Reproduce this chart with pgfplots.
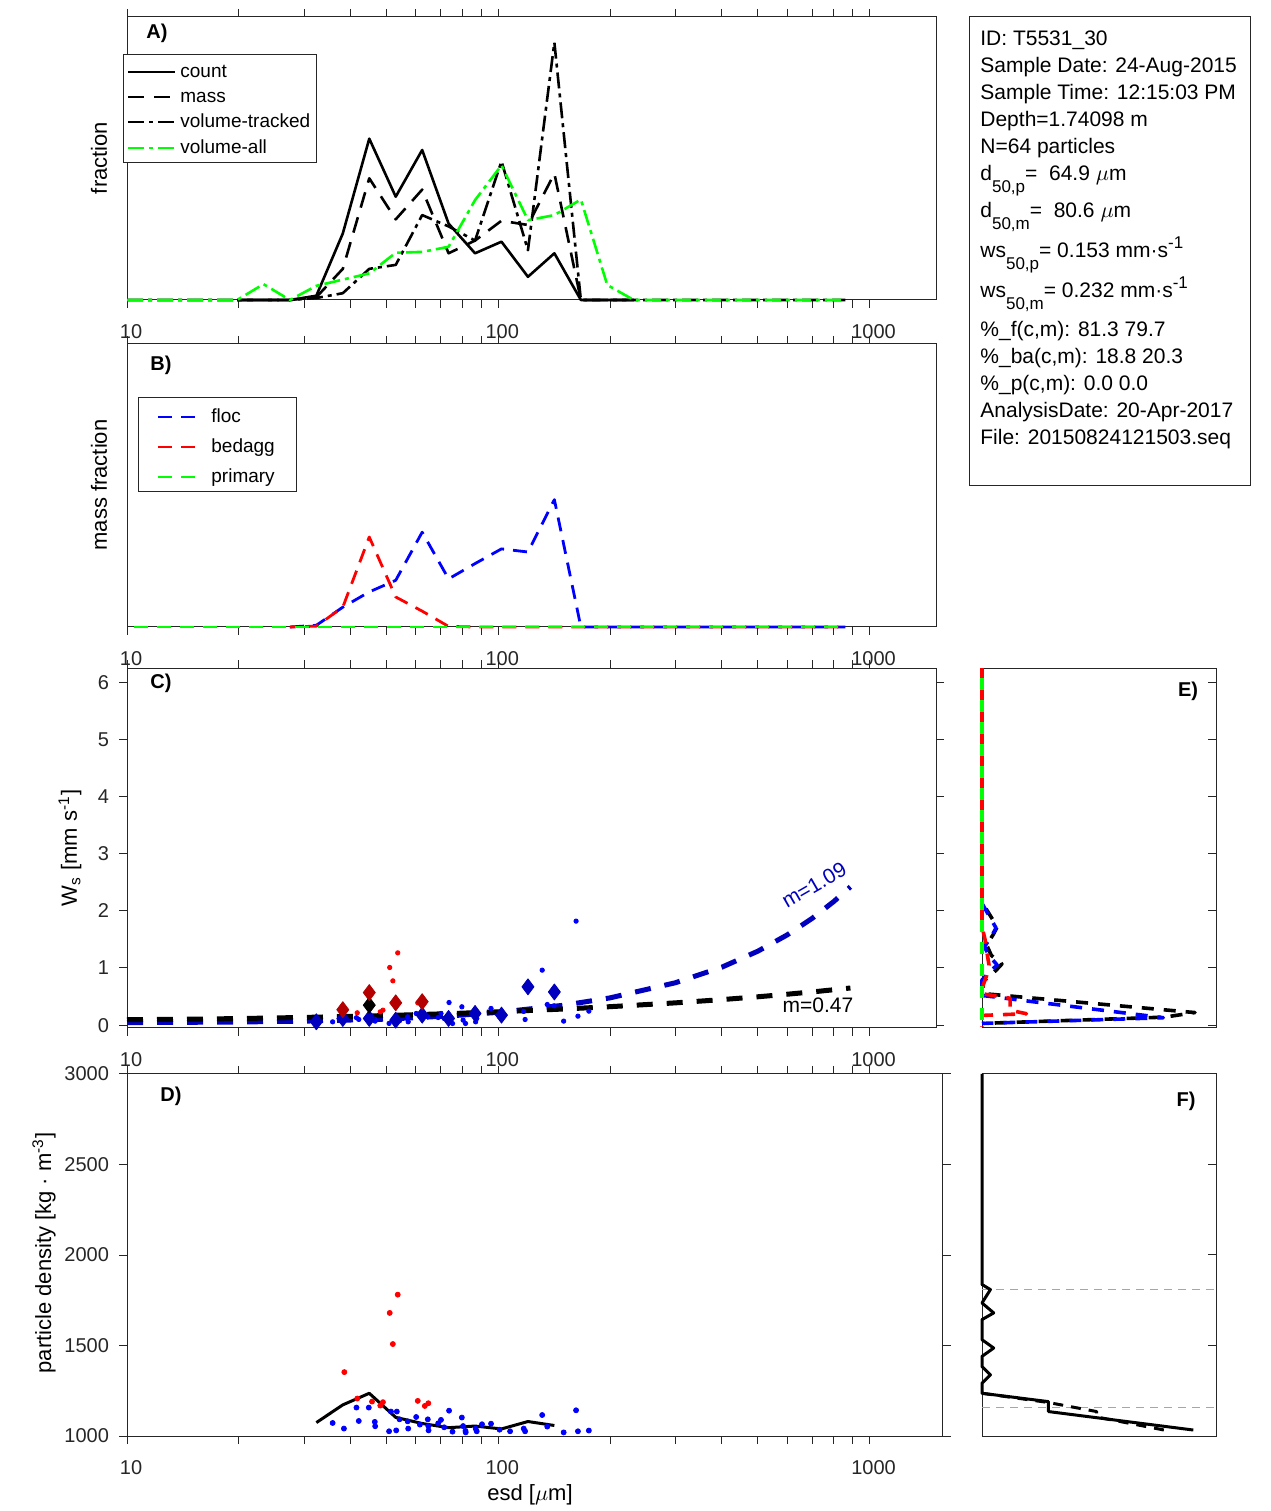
\documentclass[border=0pt]{standalone}
\usepackage{pgfplots}
\usepackage{pgfplotstable}
\pgfplotsset{compat=1.18}
\usepackage{fontspec}
\setmainfont{Liberation Sans}

\definecolor{axgray}{gray}{0.15}
\definecolor{mblue}{RGB}{0,0,255}
\definecolor{mred}{RGB}{255,0,0}
\definecolor{mgreen}{RGB}{0,255,0}
\definecolor{dblue}{RGB}{0,0,190}
\definecolor{dred}{RGB}{180,0,0}
\definecolor{refgray}{gray}{0.65}

\newcommand{\tkfont}{\fontsize{10}{12}\selectfont}
\newcommand{\lbfont}{\fontsize{11}{13}\selectfont}
\newcommand{\lgfont}{\fontsize{9.5}{11}\selectfont}
\newcommand{\tbfont}{\fontsize{10.5}{12.5}\selectfont}
\newcommand{\dsub}[1]{\raisebox{-6pt}{\fontsize{8.5}{10}\selectfont #1}}
\newcommand{\dsup}[1]{\raisebox{4.5pt}{\fontsize{8.5}{10}\selectfont #1}}

\pgfplotsset{
  mypanel/.style={
    scale only axis, clip=false,
    axis line style={draw=axgray, line width=0.5pt},
    tick style={draw=axgray, line width=0.5pt},
    major tick length=4pt, minor tick length=4pt,
    tick align=outside,
    ticklabel style={font=\tkfont, text=axgray},
    /pgf/number format/assume math mode=true,
    every axis plot/.append style={line join=round},
  },
  myesd/.style={
    xmin=10, xmax=1510,
    xtick={10,100,1000}, xticklabels={10,100,1000},
    minor xtick={20,30,40,50,60,70,80,90,200,300,400,500,600,700,800,900},
    xticklabel style={yshift=-4.5pt, xshift=2pt},
  },
}

% size distributions, panel A
\pgfplotstableread{
d      count  mass   vt     va
10.0   nan    nan    0      0
10.27  nan    nan    0      0
12.09  nan    nan    0      0
14.25  nan    nan    0      0
16.79  nan    nan    0      0
19.79  0      0      0      0
23.31  0      0      0      0.056
27.46  0      0      0      0
32.36  0.015  0.010  0.007  0.050
38.13  0.235  0.110  0.024  0.072
44.93  0.570  0.430  0.110  0.094
52.94  0.365  0.285  0.124  0.167
62.38  0.530  0.390  0.300  0.170
73.48  0.270  0.165  0.260  0.188
86.58  0.165  0.210  0.210  0.353
102.0  0.206  0.280  0.490  0.476
120.2  0.082  0.265  0.176  0.282
141.6  0.165  0.447  0.910  0.300
166.9  0      0      0      0.355
196.6  0      0      0      0.053
231.7  0      0      0      0
272.9  nan    nan    0      0
321.6  nan    nan    0      0
378.9  nan    nan    0      0
446.4  nan    nan    0      0
526.0  nan    nan    0      0
619.6  nan    nan    0      0
730.0  nan    nan    0      0
860.3  nan    nan    0      0
}\tabA

% mass fraction by class, panel B
\pgfplotstableread{
d      floc   bed    prim
10.0   nan    nan    0
10.27  nan    nan    0
12.09  nan    nan    0
14.25  nan    nan    0
16.79  nan    nan    0
19.79  nan    nan    0
23.31  nan    nan    0
27.46  0      0      0
32.36  0.006  0.003  0
38.13  0.070  0.070  0
44.93  0.124  0.318  0
52.94  0.165  0.106  0
62.38  0.335  0.056  0
73.48  0.170  0.002  0
86.58  0.224  0      0
102.0  0.276  0      0
120.2  0.265  0      0
141.6  0.450  0      0
166.9  0      0      0
196.6  0      0      0
231.7  0      0      0
272.9  0      0      0
321.6  0      0      0
378.9  0      0      0
446.4  0      0      0
526.0  0      0      0
619.6  0      0      0
730.0  0      0      0
860.3  0      0      0
}\tabB

% fitted settling velocity curves, panel C
\pgfplotstableread{
d    wsb    wsk
10   0.045  0.095
15   0.050  0.105
20   0.055  0.115
30   0.070  0.135
50   0.105  0.168
75   0.164  0.203
100  0.224  0.233
150  0.348  0.282
200  0.477  0.323
300  0.742  0.390
400  1.014  0.447
500  1.294  0.496
600  1.579  0.541
700  1.867  0.581
800  2.161  0.619
888  2.420  0.650
}\tabFit

% particles: esd, ws, density
\pgfplotstableread{
d     ws     rho
35.8  0.058  1072
38.4  0.090  1041
41.5  0.130  1157
42.1  0.100  1083
44.8  0.130  1157
46.5  0.100  1078
46.6  0.070  1054
50.8  0.030  1026
51.4  nan    1135
53.1  nan    1031
53.3  nan    1135
54.2  0.076  1092
57.0  0.146  1081
57.2  0.058  1041
60.1  0.204  1105
61.5  nan    1063
64.6  0.145  1092
64.8  nan    1055
64.9  nan    1031
68.9  0.134  1070
70.1  0.204  1089
71.5  0.117  1048
73.7  0.396  1140
75.3  0.029  1024
79.8  0.321  1102
80.4  0.087  1055
81.6  0.029  1028
81.7  nan    1020
86.9  0.058  1041
87.5  0.116  1026
90.4  nan    1065
95.6  0.292  1068
100.8 0.146  1035
107.6 nan    1026
117.1 0.240  1041
118.1 0.099  1026
131.3 0.962  1116
135.5 0.361  1052
141.3 0.338  nan
150.0 0.070  1020
162.0 1.820  1142
163.9 0.157  1026
175.4 0.245  1030
}\tabFloc

\pgfplotstableread{
d     ws     rho
38.5  0.270  1353
41.7  0.216  1207
45.7  nan    1190
48.1  0.233  1168
48.9  0.262  1187
51.0  1.009  1680
52.0  0.775  1508
53.6  1.265  1781
60.7  0.390  1194
63.4  nan    1166
64.8  nan    1181
}\tabBed

\begin{document}
\begin{tikzpicture}
\useasboundingbox (0,0) rectangle (635pt,755.5pt);
\begin{scope}[x=0.5pt,y=-0.5pt,yshift=755.5pt]
  \coordinate (cA) at (127,300);
  \coordinate (cB) at (127,627);
  \coordinate (cC) at (127,1028);
  \coordinate (cD) at (127,1436);
  \coordinate (cE) at (982,1028);
  \coordinate (cF) at (982,1436);
\end{scope}

% ---------- A ----------
\begin{axis}[mypanel, xmode=log, myesd, at={(cA)}, anchor=south west,
  width=404.5pt, height=141.5pt, ymin=0, ymax=1, ytick=\empty]
\addplot[black, line width=1.3pt] table[x=d, y=count] {\tabA};
\addplot[black, line width=1.3pt, dash pattern=on 8pt off 5pt] table[x=d, y=mass] {\tabA};
\addplot[black, line width=1.3pt, dash pattern=on 8pt off 2.5pt on 2pt off 2.5pt] table[x=d, y=vt] {\tabA};
\addplot[mgreen, line width=1.3pt, dash pattern=on 8pt off 2.5pt on 2pt off 2.5pt] table[x=d, y=va] {\tabA};
\end{axis}

% ---------- B ----------
\begin{axis}[mypanel, xmode=log, myesd, at={(cB)}, anchor=south west,
  width=404.5pt, height=141.5pt, ymin=0, ymax=1, ytick=\empty]
\addplot[mblue, line width=1.4pt, dash pattern=on 7pt off 4.5pt] table[x=d, y=floc] {\tabB};
\addplot[mred, line width=1.4pt, dash pattern=on 7pt off 4.5pt, dash phase=4pt] table[x=d, y=bed] {\tabB};
\addplot[mgreen, line width=1.4pt, dash pattern=on 7pt off 4.5pt, dash phase=8pt] table[x=d, y=prim] {\tabB};
\end{axis}

% ---------- C ----------
\begin{axis}[mypanel, xmode=log, myesd, at={(cC)}, anchor=south west,
  width=404.5pt, height=180pt, ymin=-0.05, ymax=6.25,
  ytick={0,1,2,3,4,5,6}, yticklabel style={xshift=-1.5pt}]
\addplot[dblue, line width=2.5pt, dash pattern=on 8pt off 7pt] table[x=d, y=wsb] {\tabFit};
\addplot[black, line width=2.5pt, dash pattern=on 8pt off 7pt] table[x=d, y=wsk] {\tabFit};
\addplot[only marks, mark=*, mark size=1.1pt, mblue] table[x=d, y=ws] {\tabFloc};
\addplot[only marks, mark=*, mark size=1.1pt, mred] table[x=d, y=ws] {\tabBed};
\addplot[only marks, mark=diamond*, mark size=4pt, dblue] coordinates {
  (32.36,0.058) (38.13,0.117) (44.93,0.117) (52.94,0.087) (62.38,0.175)
  (73.48,0.117) (86.58,0.204) (102.0,0.175) (120.2,0.67) (141.6,0.58)};
\addplot[only marks, mark=diamond*, mark size=4pt, black] coordinates {(44.93,0.35)};
\addplot[only marks, mark=diamond*, mark size=4pt, dred] coordinates {
  (38.13,0.27) (44.93,0.57) (52.94,0.39) (62.38,0.41)};
\end{axis}

% ---------- D ----------
\begin{axis}[mypanel, xmode=log, myesd, xmax=1577, at={(cD)}, anchor=south west,
  width=408pt, height=181pt, ymin=1000, ymax=3000,
  ytick={1000,1500,2000,2500,3000}, yticklabels={1000,1500,2000,2500,3000},
  yticklabel style={xshift=-1.5pt}]
\addplot[only marks, mark=*, mark size=1.25pt, mblue] table[x=d, y=rho] {\tabFloc};
\addplot[only marks, mark=*, mark size=1.25pt, mred] table[x=d, y=rho] {\tabBed};
\addplot[black, line width=1.5pt] coordinates {
  (32.36,1074) (38.13,1172) (44.93,1236) (52.94,1103) (62.38,1069)
  (73.48,1046) (86.58,1055) (102.0,1039) (120.2,1080) (141.6,1058)};
\end{axis}

% ---------- E ----------
\begin{axis}[mypanel, at={(cE)}, anchor=south west, width=117pt, height=180pt,
  xmin=0, xmax=1, ymin=-0.05, ymax=6.25, xtick=\empty,
  ytick={0,1,2,3,4,5,6}, yticklabels={}, ytick pos=right, tick align=inside]
\addplot[black, line width=1.8pt, dash pattern=on 6pt off 5pt] coordinates {
  (0,6.25) (0,2.15) (0.065,1.72) (0.05,1.60) (0.02,1.40) (0.04,1.22) (0.085,1.07)
  (0.06,0.96) (0.03,0.85) (0,0.75) (0.01,0.55) (0.91,0.22) (0.78,0.14) (0,0.03)};
\addplot[mblue, line width=1.8pt, dash pattern=on 6pt off 5pt, dash phase=3pt] coordinates {
  (0,6.25) (0,2.13) (0.06,1.70) (0.04,1.55) (0.01,1.37) (0.03,1.22) (0.065,1.05)
  (0.03,0.93) (0,0.79) (0,0.52) (0.775,0.13) (0,0.03)};
\addplot[mred, line width=1.8pt, dash pattern=on 6pt off 5pt] coordinates {
  (0,6.25) (0,1.72) (0.013,1.5) (0.02,1.3) (0.03,1.05) (0.02,0.87) (0.005,0.7)
  (0,0.55) (0.12,0.47) (0.12,0.26) (0.19,0.20) (0,0.17) (0,-0.03)};
\addplot[mgreen, line width=1.8pt, dash pattern=on 6pt off 5pt, dash phase=6pt] coordinates {
  (0,6.25) (0,-0.03)};
\end{axis}

% ---------- F ----------
\begin{axis}[mypanel, at={(cF)}, anchor=south west, width=117pt, height=181pt,
  xmin=0, xmax=1, ymin=1000, ymax=3000, xtick=\empty,
  ytick={1000,1500,2000,2500,3000}, yticklabels={}, ytick pos=right, tick align=inside]
\addplot[refgray, line width=0.8pt, dash pattern=on 4pt off 3pt] coordinates {(0,1810) (1,1810)};
\addplot[refgray, line width=0.8pt, dash pattern=on 4pt off 3pt] coordinates {(0,1157) (1,1157)};
\addplot[black, line width=1.5pt, dash pattern=on 5pt off 4pt] coordinates {
  (0,1236) (0.284,1185) (0.49,1135) (0.49,1105) (0.79,1030)};
\addplot[black, line width=1.5pt] coordinates {
  (0,3000) (0,1837) (0.036,1809) (0,1735) (0.05,1680) (0,1643) (0,1532)
  (0.05,1486) (0,1440) (0,1384) (0.036,1338) (0,1292) (0,1236)
  (0.284,1190) (0.284,1135) (0.903,1033)};
\end{axis}

% ---------- labels, legends, info box ----------
\begin{scope}[x=0.5pt,y=-0.5pt,yshift=755.5pt,
  lgtext/.style={anchor=base west, inner sep=0pt, font=\lgfont},
  tbtext/.style={anchor=base west, inner sep=0pt, font=\tbfont},
  letter/.style={font=\bfseries\tkfont, inner sep=0pt}]
  \node[rotate=90, font=\lbfont] at (99,158) {fraction};
  \node[rotate=90, font=\lbfont] at (99,485) {mass fraction};
  \node[rotate=90, font=\lbfont] at (70,848) {W\textsubscript{s} [mm s\textsuperscript{-1}]};
  \node[rotate=90, font=\lbfont] at (44,1253) {particle density [kg · m\textsuperscript{-3}]};
  \node[font=\lbfont] at (530,1495) {esd [$\mu$m]};

  \node[letter] at (157,33) {A)};
  \node[letter] at (161,365) {B)};
  \node[letter] at (161,683) {C)};
  \node[letter] at (171,1096) {D)};
  \node[letter] at (1188,691) {E)};
  \node[letter] at (1186,1101) {F)};

  \node[rotate=30, text=dblue, font=\tbfont] at (814,885) {m=1.09};
  \node[font=\tbfont] at (818,1005) {m=0.47};

  % legend A
  \draw[axgray, line width=0.5pt, fill=white] (123,55) rectangle (316,163);
  \draw[black, line width=1.3pt] (128,72) -- (175,72);
  \node[lgtext] at (180,78) {count};
  \draw[black, line width=1.3pt, dash pattern=on 8pt off 5pt] (128,97) -- (175,97);
  \node[lgtext] at (180,103) {mass};
  \draw[black, line width=1.3pt, dash pattern=on 8pt off 2.5pt on 2pt off 2.5pt] (128,122) -- (175,122);
  \node[lgtext] at (180,128) {volume-tracked};
  \draw[mgreen, line width=1.3pt, dash pattern=on 8pt off 2.5pt on 2pt off 2.5pt] (128,148) -- (175,148);
  \node[lgtext] at (180,154) {volume-all};

  % legend B
  \draw[axgray, line width=0.5pt, fill=white] (138,398) rectangle (296,492);
  \draw[mblue, line width=1.4pt, dash pattern=on 7pt off 4.5pt] (158,417) -- (195,417);
  \node[lgtext] at (211,423) {floc};
  \draw[mred, line width=1.4pt, dash pattern=on 7pt off 4.5pt] (158,447) -- (195,447);
  \node[lgtext] at (211,453) {bedagg};
  \draw[mgreen, line width=1.4pt, dash pattern=on 7pt off 4.5pt] (158,477) -- (195,477);
  \node[lgtext] at (211,483) {primary};

  % info box
  \draw[axgray, line width=0.5pt] (969,17) rectangle (1250,486);
  \node[tbtext] at (980,45.5) {ID: T5531\_30};
  \node[tbtext] at (980,72.5) {Sample Date: 24-Aug-2015};
  \node[tbtext] at (980,99.5) {Sample Time: 12:15:03 PM};
  \node[tbtext] at (980,126.5) {Depth=1.74098 m};
  \node[tbtext] at (980,153.5) {N=64 particles};
  \node[tbtext] at (980,180.5) {d\dsub{50,p}=\ \ 64.9 $\mu$m};
  \node[tbtext] at (980,217.5) {d\dsub{50,m}=\ \ 80.6 $\mu$m};
  \node[tbtext] at (980,257.5) {ws\dsub{50,p}= 0.153 mm·s\dsup{-1}};
  \node[tbtext] at (980,297.5) {ws\dsub{50,m}= 0.232 mm·s\dsup{-1}};
  \node[tbtext] at (980,336.5) {\%\_f(c,m): 81.3 79.7};
  \node[tbtext] at (980,363.5) {\%\_ba(c,m): 18.8 20.3};
  \node[tbtext] at (980,390.5) {\%\_p(c,m): 0.0 0.0};
  \node[tbtext] at (980,417.5) {AnalysisDate: 20-Apr-2017};
  \node[tbtext] at (980,444.5) {File: 20150824121503.seq};
\end{scope}
\end{tikzpicture}
\end{document}
